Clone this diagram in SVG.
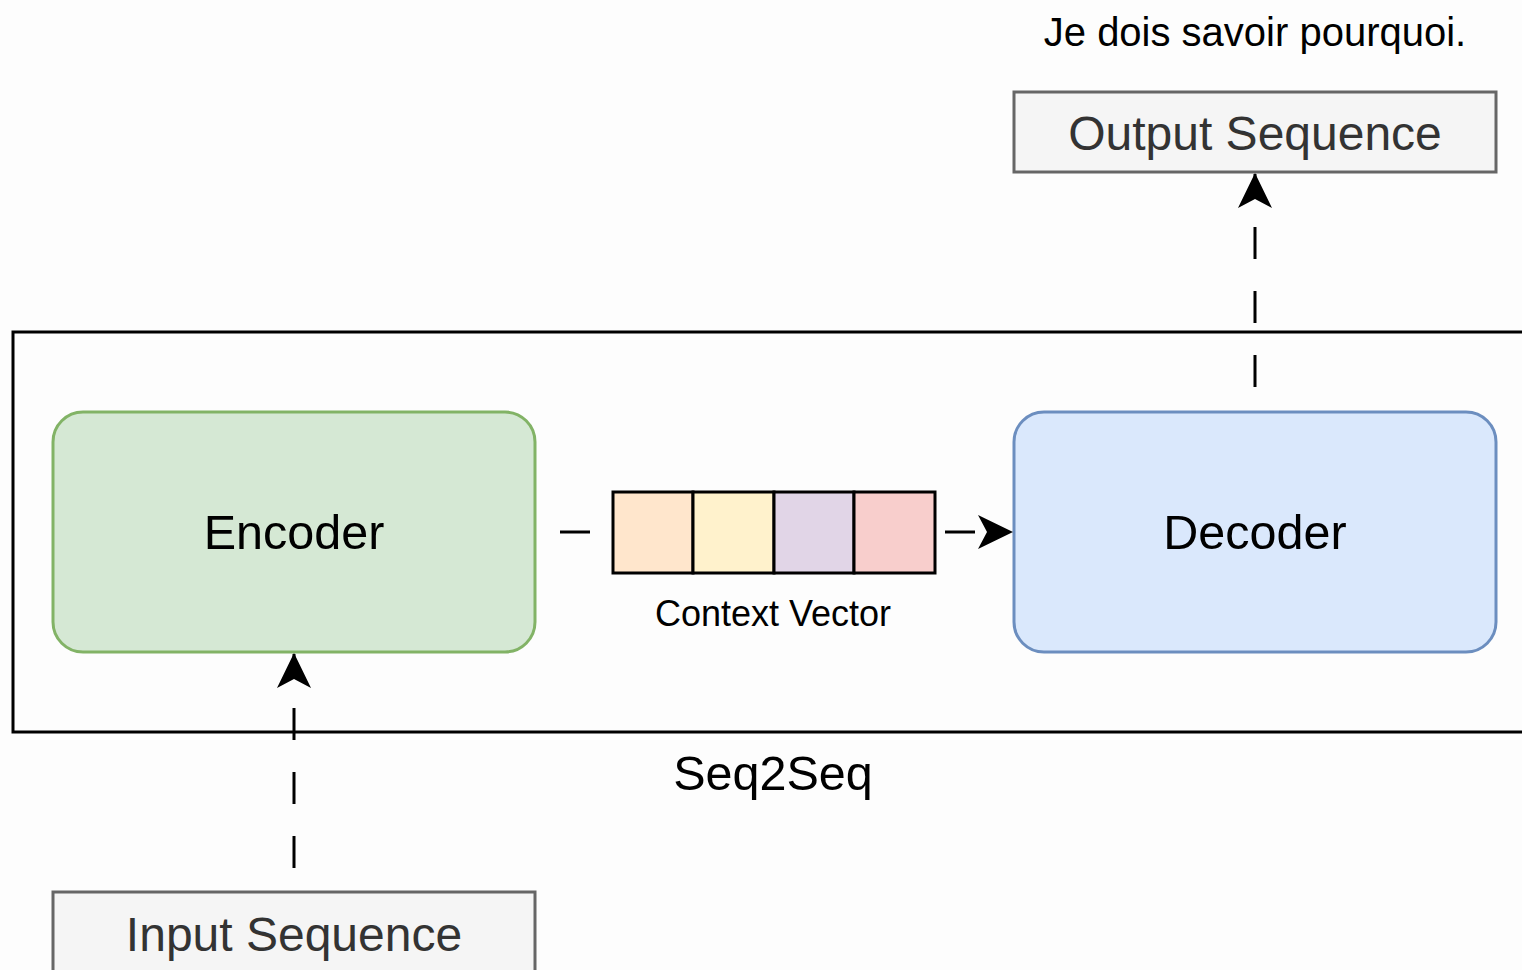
<svg xmlns="http://www.w3.org/2000/svg" width="1522" height="970" viewBox="0 0 1522 970">
  <style>
    text { font-family: "Liberation Sans", Arial, sans-serif; text-anchor: middle; dominant-baseline: central; }
    .lbl { font-size: 48.5px; fill: #000; }
    .seq { fill: #f5f5f5; stroke: #666; stroke-width: 3; }
    .seqtxt { font-size: 48px; fill: #333; }
    .cell { stroke: #000; stroke-width: 3; }
    .conn { stroke: #000; stroke-width: 3; fill: none; }
    .dash { stroke-dasharray: 32 32; }
  </style>
  <defs>
    <marker id="arrow" viewBox="0 0 36 36" refX="34" refY="18" markerWidth="36" markerHeight="36" markerUnits="userSpaceOnUse" orient="auto">
      <path d="M0,1 L35,18 L0,35 L9,18 Z" fill="#000"/>
    </marker>
  </defs>
  <rect width="1522" height="970" fill="#fdfdfd"/>

  <g id="seq2seq">
    <rect x="13" y="332" width="1540" height="400" fill="none" stroke="#000" stroke-width="3"/>
    <text x="773" y="773" class="lbl">Seq2Seq</text>
  </g>

  <g id="caption">
    <text x="1255" y="32" style="font-size:40px" fill="#000">Je dois savoir pourquoi.</text>
  </g>

  <g id="output-sequence">
    <rect x="1014" y="92" width="482" height="80" class="seq"/>
    <text x="1255" y="133" class="seqtxt">Output Sequence</text>
  </g>

  <g id="input-sequence">
    <rect x="53" y="892" width="482" height="90" class="seq"/>
    <text x="294" y="934" class="seqtxt">Input Sequence</text>
  </g>

  <g id="encoder">
    <rect x="53" y="412" width="482" height="240" rx="30" fill="#d5e8d4" stroke="#82b366" stroke-width="3"/>
    <text x="294" y="532" class="lbl">Encoder</text>
  </g>

  <g id="decoder">
    <rect x="1014" y="412" width="482" height="240" rx="30" fill="#dae8fc" stroke="#6c8ebf" stroke-width="3"/>
    <text x="1255" y="532" class="lbl">Decoder</text>
  </g>

  <g id="context-vector">
    <rect x="613" y="492" width="80" height="81" fill="#ffe6cc" class="cell"/>
    <rect x="693" y="492" width="81" height="81" fill="#fff2cc" class="cell"/>
    <rect x="774" y="492" width="80" height="81" fill="#e1d5e7" class="cell"/>
    <rect x="854" y="492" width="81" height="81" fill="#f8cecc" class="cell"/>
    <text x="773" y="613" style="font-size:36px" fill="#000">Context Vector</text>
  </g>

  <g id="connectors">
    <!-- encoder to context vector to decoder -->
    <line x1="560" y1="532" x2="590" y2="532" class="conn"/>
    <line x1="945" y1="532" x2="1012" y2="532" class="conn" stroke-dasharray="30 100" marker-end="url(#arrow)"/>
    <!-- input sequence up into encoder -->
    <line x1="294" y1="892" x2="294" y2="654" class="conn dash" stroke-dashoffset="40" marker-end="url(#arrow)"/>
    <!-- decoder up to output sequence -->
    <line x1="1255" y1="412" x2="1255" y2="174" class="conn dash" stroke-dashoffset="39" marker-end="url(#arrow)"/>
  </g>
</svg>
